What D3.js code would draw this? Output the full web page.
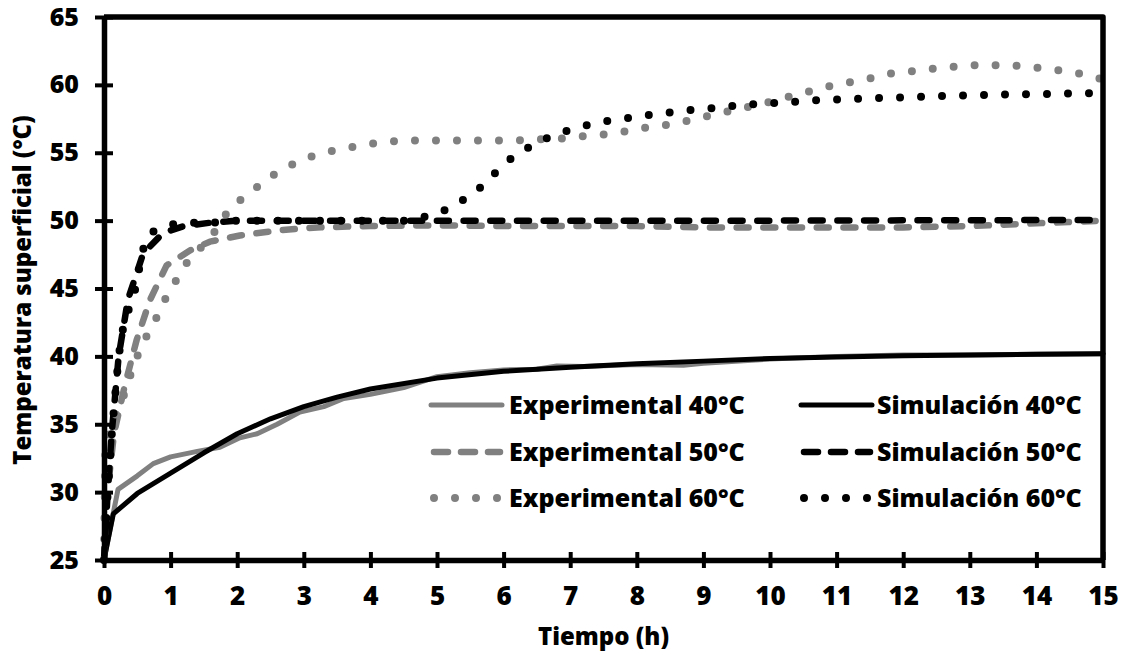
<!DOCTYPE html>
<html>
<head>
<meta charset="utf-8">
<script src="https://cdn.jsdelivr.net/npm/d3@7"></script>
<style>
  body { margin: 0; background: #fff; }
  svg text { font-family: "Open Sans", sans-serif; font-weight: 800; fill: #000; }
</style>
</head>
<body>
<div id="chart"></div>
<script>
// Data: [time (h), temperature (°C)]
const exp40 = [[0,25],[0.21,30.2],[0.5,31.2],[0.74,32.1],[1,32.6],[1.4,33],[1.74,33.3],[2.04,34],[2.3,34.3],[2.6,35],[2.94,35.9],[3.3,36.3],[3.6,36.9],[4,37.2],[4.5,37.7],[5,38.5],[5.5,38.8],[6,39],[6.5,39.05],[6.8,39.3],[7.2,39.25],[8,39.4],[8.7,39.35],[9,39.5],[10,39.8],[11,40],[12,40.1],[13,40.1],[14,40.15],[15,40.2]];
const sim40 = [[0,25],[0.14,28.4],[0.5,29.9],[1,31.4],[1.5,32.9],[2,34.3],[2.5,35.4],[3,36.3],[3.5,37],[4,37.6],[5,38.4],[6,38.9],[7,39.2],[8,39.45],[9,39.65],[10,39.85],[11,39.95],[12,40.05],[13,40.1],[14,40.15],[15,40.2]];
const exp50 = [[0,25],[0.04,29.5],[0.15,34.3],[0.31,37.8],[0.49,41.2],[0.69,44.15],[0.94,46.7],[1.29,47.8],[1.59,48.45],[2.04,48.9],[2.64,49.3],[3.2,49.5],[4,49.6],[5,49.65],[6,49.6],[7,49.6],[8,49.6],[9,49.5],[10,49.5],[11,49.5],[12,49.5],[13,49.6],[14,49.8],[15,50]];
const sim50 = [[0,25],[0.05,29.5],[0.115,34.3],[0.22,40],[0.36,44.2],[0.59,47.6],[0.89,49.1],[1.2,49.6],[1.6,49.85],[2,50],[5,50],[10,50],[15,50.05]];
const exp60 = [[0,25],[0.02,33],[0.09,34.5],[0.19,35.9],[0.32,37.4],[0.42,39],[0.54,40.5],[0.69,42],[0.84,43.3],[0.97,44.8],[1.14,46],[1.29,47.3],[1.59,48.6],[1.75,49.9],[1.92,51.1],[2.19,52],[2.42,53],[2.69,53.8],[2.98,54.5],[3.29,55],[3.59,55.3],[3.92,55.6],[4.23,55.8],[4.54,55.9],[5.5,55.9],[6.16,55.9],[6.47,56],[6.8,56],[7.12,56.2],[7.44,56.3],[7.75,56.5],[8.07,56.8],[8.39,57],[8.71,57.3],[9.02,57.65],[9.33,58],[9.65,58.35],[9.96,58.7],[10.26,59.1],[10.57,59.5],[10.89,59.9],[11.2,60.2],[11.52,60.5],[11.82,60.85],[12.14,61],[12.46,61.2],[12.78,61.35],[13.1,61.45],[13.42,61.45],[13.74,61.4],[14.06,61.25],[14.38,61.05],[14.69,60.8],[15,60.4]];
const sim60 = [[0,25],[0.05,29.5],[0.12,34.5],[0.22,40],[0.3,42.5],[0.45,44.5],[0.53,46.5],[0.58,47.8],[0.69,49.1],[0.99,49.7],[1.29,49.85],[1.64,49.85],[1.94,50],[3,50],[4,50],[4.52,50],[4.82,50.3],[5.13,50.8],[5.42,51.6],[5.67,52.5],[5.89,53.6],[6.14,54.7],[6.41,55.5],[6.7,56.2],[7,56.7],[7.31,57.1],[7.62,57.4],[7.94,57.6],[8.26,57.85],[8.57,58],[8.89,58.2],[9.21,58.3],[9.53,58.5],[9.85,58.6],[10.17,58.7],[10.49,58.8],[10.81,58.9],[11.45,59],[12.1,59.1],[12.74,59.2],[13.7,59.3],[14.35,59.35],[15,59.4]];

const xTicks = d3.range(0, 16, 1);
const yTicks = [25, 30, 35, 40, 45, 50, 55, 60, 65];

const seriesNames = ["Experimental 40°C", "Simulación 40°C", "Experimental 50°C", "Simulación 50°C", "Experimental 60°C", "Simulación 60°C"];
const seriesData = [exp40, sim40, exp50, sim50, exp60, sim60];

const gray = "#808080";
const styles = [
  {color: gray, width: 5, dash: null},
  {color: "#000", width: 5, dash: null},
  {color: gray, width: 6.5, dash: "12 14.7"},
  {color: "#000", width: 6.5, dash: "12 14.7"},
  {color: gray, width: 8, dash: "0 21"},
  {color: "#000", width: 8, dash: "0 21"}
];

const width = 1131;
const height = 655;
const margin = {top: 17, right: 28, bottom: 95, left: 104};

const svg = d3.select("#chart")
    .append("svg")
    .attr("width", width)
    .attr("height", height);

const xScale = d3.scaleLinear()
    .domain([0, 15])
    .range([margin.left, width - margin.right]);

const yScale = d3.scaleLinear()
    .domain([25, 65])
    .range([height - margin.bottom, margin.top]);

const line = d3.line()
    .x(d => xScale(d[0]))
    .y(d => yScale(d[1]));

// Series
seriesData.forEach((data, i) => {
    const s = styles[i];
    svg.append("path")
        .datum(data)
        .attr("fill", "none")
        .attr("stroke", s.color)
        .attr("stroke-width", s.width)
        .attr("stroke-linecap", "round")
        .attr("stroke-linejoin", "round")
        .attr("stroke-dasharray", s.dash)
        .attr("d", line);
});

// Frame (top and right)
svg.append("path")
    .attr("fill", "none")
    .attr("stroke", "#000")
    .attr("stroke-width", 5.5)
    .attr("stroke-linejoin", "round")
    .attr("d", `M${xScale(0)},${yScale(65)}H${xScale(15)}V${yScale(25)}`);

// X axis
const xAxis = svg.append("g")
    .attr("transform", `translate(0,${yScale(25)})`)
    .call(d3.axisBottom(xScale).tickValues(xTicks).tickSize(0).tickPadding(36).tickFormat(d3.format("d")));
xAxis.select(".domain").attr("stroke-width", 5.5);
xAxis.selectAll(".tick line").remove();
xAxis.selectAll(".tick").append("line")
    .attr("y1", -8).attr("y2", 8)
    .attr("stroke", "#000").attr("stroke-width", 4);
xAxis.selectAll("text").style("font-size", "26px").attr("dy", "0.35em");

// Y axis
const yAxis = svg.append("g")
    .attr("transform", `translate(${xScale(0)},0)`)
    .call(d3.axisLeft(yScale).tickValues(yTicks).tickSize(0).tickPadding(25));
yAxis.select(".domain").attr("stroke-width", 5.5);
yAxis.selectAll(".tick line").remove();
yAxis.selectAll(".tick").append("line")
    .attr("x1", -9).attr("x2", 9)
    .attr("stroke", "#000").attr("stroke-width", 4);
yAxis.selectAll("text").style("font-size", "25px");

// Axis titles
svg.append("text")
    .attr("x", (xScale(0) + xScale(15)) / 2)
    .attr("y", 645)
    .attr("text-anchor", "middle")
    .style("font-size", "24px")
    .text("Tiempo (h)");

svg.append("text")
    .attr("transform", `translate(31,${290}) rotate(-90)`)
    .attr("text-anchor", "middle")
    .style("font-size", "24px")
    .text("Temperatura superficial (°C)");

// Legend
const legendCols = [{x0: 431, x1: 502, tx: 509}, {x0: 801, x1: 872, tx: 877}];
const legendRows = [414, 461, 507];

seriesNames.forEach((name, i) => {
    const col = legendCols[i % 2];
    const yb = legendRows[Math.floor(i / 2)];
    const s = styles[i];
    const ym = yb - 9;
    let dash = s.dash;
    let x0 = col.x0, x1 = col.x1;
    if (i === 2 || i === 3) { dash = "14 13"; x0 += 3; x1 -= 2; }
    if (i === 4 || i === 5) { dash = "0 21"; x0 += 3; x1 -= 1; }
    svg.append("line")
        .attr("x1", x0).attr("x2", x1)
        .attr("y1", ym).attr("y2", ym)
        .attr("stroke", s.color)
        .attr("stroke-width", s.width)
        .attr("stroke-linecap", "round")
        .attr("stroke-dasharray", dash);
    svg.append("text")
        .attr("x", col.tx)
        .attr("y", yb)
        .style("font-size", "25px")
        .text(name);
});
</script>
</body>
</html>
